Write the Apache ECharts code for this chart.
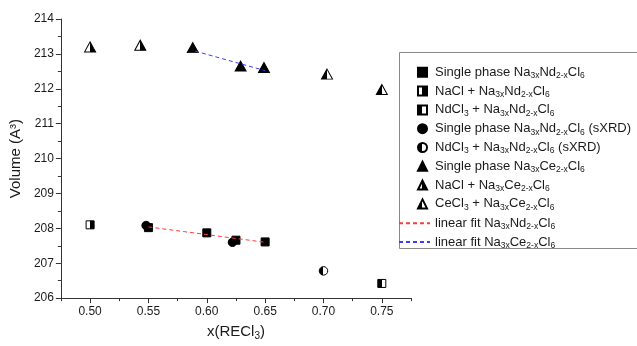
<!DOCTYPE html>
<html>
<head>
    <meta charset="utf-8">
    <title>Volume vs x(RECl3)</title>
    <script src="https://cdn.jsdelivr.net/npm/echarts@6/dist/echarts.min.js"></script>
    <style type="text/css">
        html, body { margin: 0; padding: 0; background: #fff; }
        #main { width: 637px; height: 346px; }
    </style>
</head>
<body>
<div id="main"></div>
<script>
    // data, [x, volume]
    var ndSingle = [[0.55, 208.02], [0.60, 207.87], [0.625, 207.66], [0.65, 207.61]];
    var ndNaCl = [[0.50, 208.10]];
    var ndNdCl3 = [[0.75, 206.42]];
    var ndSingleSxrd = [[0.548, 208.08], [0.622, 207.60]];
    var ndNdCl3Sxrd = [[0.70, 206.78]];
    var ceSingle = [[0.588, 213.18], [0.629, 212.65], [0.649, 212.61]];
    var ceNaCl = [[0.50, 213.20], [0.543, 213.25]];
    var ceCeCl3 = [[0.703, 212.42], [0.75, 211.98]];
    var fitNd = [[0.55, 208.04], [0.65, 207.60]];
    var fitCe = [[0.59, 213.08], [0.65, 212.52]];

    var xLabels = [0.50, 0.55, 0.60, 0.65, 0.70, 0.75];

    var names = [
        'Single phase Na3xNd2-xCl6',
        'NaCl + Na3xNd2-xCl6',
        'NdCl3 + Na3xNd2-xCl6',
        'Single phase Na3xNd2-xCl6 (sXRD)',
        'NdCl3 + Na3xNd2-xCl6 (sXRD)',
        'Single phase Na3xCe2-xCl6',
        'NaCl + Na3xCe2-xCl6',
        'CeCl3 + Na3xCe2-xCl6',
        'linear fit Na3xNd2-xCl6',
        'linear fit Na3xCe2-xCl6'
    ];
    var richNames = {};
    richNames[names[0]] = 'Single phase Na{s|3x}Nd{s|2-x}Cl{s|6}';
    richNames[names[1]] = 'NaCl + Na{s|3x}Nd{s|2-x}Cl{s|6}';
    richNames[names[2]] = 'NdCl{s|3} + Na{s|3x}Nd{s|2-x}Cl{s|6}';
    richNames[names[3]] = 'Single phase Na{s|3x}Nd{s|2-x}Cl{s|6} (sXRD)';
    richNames[names[4]] = 'NdCl{s|3} + Na{s|3x}Nd{s|2-x}Cl{s|6} (sXRD)';
    richNames[names[5]] = 'Single phase Na{s|3x}Ce{s|2-x}Cl{s|6}';
    richNames[names[6]] = 'NaCl + Na{s|3x}Ce{s|2-x}Cl{s|6}';
    richNames[names[7]] = 'CeCl{s|3} + Na{s|3x}Ce{s|2-x}Cl{s|6}';
    richNames[names[8]] = 'linear fit Na{s|3x}Nd{s|2-x}Cl{s|6}';
    richNames[names[9]] = 'linear fit Na{s|3x}Ce{s|2-x}Cl{s|6}';

    var FONT = '"Liberation Sans", Arial, sans-serif';

    function half(leftColor, rightColor) {
        return {
            type: 'linear', x: 0, y: 0, x2: 1, y2: 0,
            colorStops: [
                {offset: 0, color: leftColor}, {offset: 0.5, color: leftColor},
                {offset: 0.5, color: rightColor}, {offset: 1, color: rightColor}
            ]
        };
    }

    function scatter(name, data, symbol, size, fill) {
        return {
            name: name,
            type: 'scatter',
            data: data,
            symbol: symbol,
            symbolSize: size,
            symbolKeepAspect: true,
            z: 3,
            itemStyle: {color: fill, borderColor: '#000', borderWidth: 1, opacity: 1},
            emphasis: {disabled: true}
        };
    }

    function fitLine(name, data, color) {
        return {
            name: name,
            type: 'line',
            data: data,
            symbol: 'none',
            z: 5,
            lineStyle: {color: color, width: 1, type: [4, 3]},
            itemStyle: {color: color},
            emphasis: {disabled: true}
        };
    }

    var legendText = {
        fontFamily: FONT,
        fontSize: 13,
        color: '#1a1a1a',
        lineHeight: 16,
        rich: {
            s: {fontFamily: FONT, fontSize: 8.5, color: '#1a1a1a', lineHeight: 9, padding: [7, 0, 0, 0]}
        }
    };

    // legend icons: same shapes as the marks, drawn at a fixed square size
    var iconFor = ['rect', 'rect', 'rect', 'circle', 'circle', 'triangle', 'triangle', 'triangle'];

    var myChart = echarts.init(document.getElementById('main'));
    var option = {
        animation: false,
        backgroundColor: '#fff',
        textStyle: {fontFamily: FONT},
        grid: {left: 59.5, top: 19, right: 226, bottom: 44, containLabel: false},
        graphic: [{
            type: 'rect',
            shape: {x: 399.5, y: 52.5, width: 260, height: 196},
            style: {fill: 'none', stroke: '#8a8a8a', lineWidth: 1},
            z: 0
        }],
        legend: [{
            orient: 'vertical',
            left: 412,
            top: 59.3,
            itemWidth: 9,
            itemHeight: 9,
            itemGap: 2.8,
            data: names.slice(0, 8).map(function (n, i) { return {name: n, icon: iconFor[i]}; }),
            selectedMode: false,
            formatter: function (n) { return richNames[n]; },
            textStyle: Object.assign({padding: [0, 0, 0, 3]}, legendText)
        }, {
            orient: 'vertical',
            left: 393,
            top: 210.3,
            itemWidth: 31,
            itemHeight: 9,
            itemGap: 2.8,
            data: names.slice(8),
            selectedMode: false,
            itemStyle: {opacity: 0},
            formatter: function (n) { return richNames[n]; },
            textStyle: legendText
        }],
        xAxis: [{
            type: 'value',
            min: 0.475,
            max: 0.775,
            interval: 0.025,
            name: '{a|x(RECl}{s|3}{a|)}',
            nameLocation: 'middle',
            nameGap: 18,
            nameTextStyle: {
                rich: {
                    a: {fontFamily: FONT, fontSize: 15, color: '#1a1a1a', lineHeight: 18},
                    s: {fontFamily: FONT, fontSize: 10, color: '#1a1a1a', lineHeight: 10, padding: [8, 0, 0, 0]}
                }
            },
            axisLine: {show: true, onZero: false, lineStyle: {color: '#333', width: 1}},
            axisTick: {show: true, inside: false, length: 3, lineStyle: {color: '#333'}},
            axisLabel: {
                customValues: xLabels,
                formatter: function (v) { return v.toFixed(2); },
                fontFamily: FONT, fontSize: 12, color: '#1a1a1a', margin: 8
            },
            splitLine: {show: false}
        }, {
            type: 'value',
            min: 0.475,
            max: 0.775,
            position: 'bottom',
            axisLine: {show: false, onZero: false},
            axisTick: {show: true, inside: false, length: 5, customValues: xLabels, lineStyle: {color: '#333'}},
            axisLabel: {show: false},
            splitLine: {show: false}
        }],
        yAxis: {
            type: 'value',
            min: 206,
            max: 214,
            interval: 1,
            name: 'Volume (A³)',
            nameLocation: 'middle',
            nameGap: 34,
            nameTextStyle: {fontFamily: FONT, fontSize: 15, color: '#1a1a1a'},
            axisLine: {show: true, lineStyle: {color: '#333', width: 1}},
            axisTick: {show: true, inside: false, length: 5, lineStyle: {color: '#333'}},
            minorTick: {show: true, splitNumber: 2, length: 3, lineStyle: {color: '#333'}},
            axisLabel: {fontFamily: FONT, fontSize: 12, color: '#1a1a1a', margin: 7},
            splitLine: {show: false}
        },
        series: [
            scatter(names[0], ndSingle, 'rect', 8, '#000'),
            scatter(names[1], ndNaCl, 'rect', 8, half('#ffffff', '#000')),
            scatter(names[2], ndNdCl3, 'rect', 8, half('#000', '#ffffff')),
            scatter(names[3], ndSingleSxrd, 'circle', 8.5, '#000'),
            scatter(names[4], ndNdCl3Sxrd, 'circle', 8.5, half('#000', '#ffffff')),
            scatter(names[5], ceSingle, 'triangle', [11, 10], '#000'),
            scatter(names[6], ceNaCl, 'triangle', [11, 10], half('#ffffff', '#000')),
            scatter(names[7], ceCeCl3, 'triangle', [11, 10], half('#000', '#ffffff')),
            fitLine(names[8], fitNd, '#ff3b3b'),
            fitLine(names[9], fitCe, '#3b3bff')
        ]
    };
    myChart.setOption(option);
</script>
</body>
</html>
